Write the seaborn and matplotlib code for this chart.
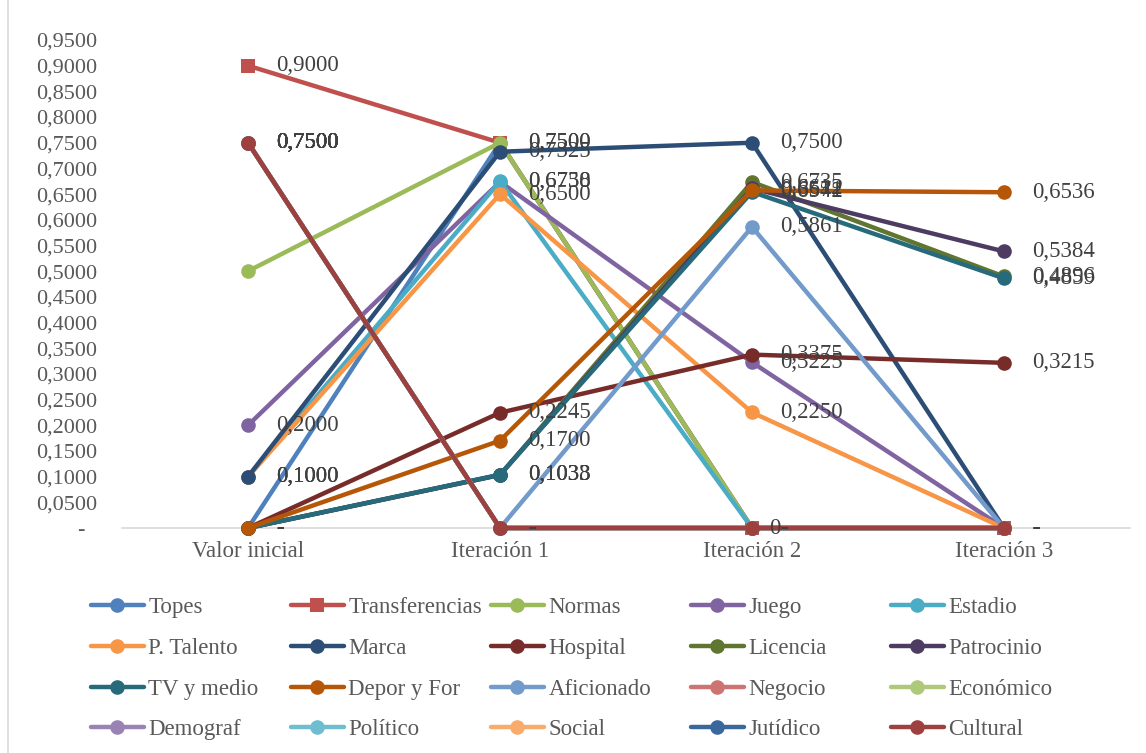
import numpy as np
import pandas as pd
import matplotlib
matplotlib.use("Agg")
import matplotlib.pyplot as plt
import seaborn as sns
from matplotlib.lines import Line2D

# categories and series
categorias = ["Valor inicial", "Iteración 1", "Iteración 2", "Iteración 3"]

nombres = ["Topes", "Transferencias", "Normas", "Juego", "Estadio",
           "P. Talento", "Marca", "Hospital", "Licencia", "Patrocinio",
           "TV y medio", "Depor y For", "Aficionado", "Negocio", "Económico",
           "Demograf", "Político", "Social", "Jutídico", "Cultural"]

topes = [0.0, 0.75, 0.0, 0.0]
transferencias = [0.90, 0.75, 0.0, 0.0]
normas = [0.50, 0.75, 0.0, 0.0]
juego = [0.20, 0.6738, 0.3225, 0.0]
estadio = [0.10, 0.6750, 0.0, 0.0]
p_talento = [0.10, 0.65, 0.2250, 0.0]
marca = [0.10, 0.7325, 0.75, 0.0]
hospital = [0.0, 0.2245, 0.3375, 0.3215]
licencia = [0.0, 0.1033, 0.6735, 0.4896]
patrocinio = [0.0, 0.1033, 0.6612, 0.5384]
tv_medio = [0.0, 0.1038, 0.6542, 0.4859]
depor_for = [0.0, 0.17, 0.6571, 0.6536]
aficionado = [0.75, 0.0, 0.5861, 0.0]
negocio = [0.75, 0.0, 0.0, 0.0]
economico = [0.75, 0.0, 0.0, 0.0]
demograf = [0.75, 0.0, 0.0, 0.0]
politico = [0.75, 0.0, 0.0, 0.0]
social = [0.75, 0.0, 0.0, 0.0]
juridico = [0.75, 0.0, 0.0, 0.0]
cultural = [0.75, 0.0, 0.0, 0.0]

valores = [topes, transferencias, normas, juego, estadio, p_talento, marca,
           hospital, licencia, patrocinio, tv_medio, depor_for, aficionado,
           negocio, economico, demograf, politico, social, juridico, cultural]

colores = ["#4F81BD", "#C0504D", "#9BBB59", "#8064A2", "#4BACC6", "#F79646",
           "#2C4D75", "#772C2A", "#5F7530", "#4D3B62", "#276A7C", "#B65708",
           "#729ACA", "#CD7371", "#AFC97A", "#9983B5", "#6FBDD1", "#F9AB6B",
           "#3A679C", "#9E413E"]

# Normas has no data labels in the original
sin_etiquetas = ["Normas"]

sns.set_theme(style="white")
plt.rcParams['font.family'] = ['Liberation Serif', 'DejaVu Serif']

fig, ax = plt.subplots(figsize=(11.46, 7.53), dpi=100)
fig.subplots_adjust(left=0.1065, right=0.986, bottom=0.2988, top=0.9469)

x = np.arange(len(categorias))
handles = []
for nombre, vals, col in zip(nombres, valores, colores):
    marker = "s" if nombre == "Transferencias" else "o"
    sns.lineplot(x=x, y=vals, ax=ax, color=col, marker=marker, markersize=10.5,
                 markeredgewidth=0, linewidth=3.2, clip_on=False)
    handles.append(ax.lines[-1])


def fmt(v):
    if v == 0:
        return "-"
    return f"{v:.4f}".replace(".", ",")


# data labels
for nombre, vals in zip(nombres, valores):
    if nombre in sin_etiquetas:
        continue
    for j, v in enumerate(vals):
        txt = fmt(v)
        dx = 20
        if nombre == "Transferencias" and j == 2:
            txt = "0"
            dx = 12
        ax.annotate(txt, (j, v), xytext=(dx, 0), textcoords="offset points",
                    ha="left", va="center", fontsize=16.5, color="#404040",
                    zorder=20, annotation_clip=False)

ax.set_xlim(-0.5, 3.5)
ax.set_ylim(0, 0.95)
yt = np.arange(0, 0.951, 0.05)
ax.set_yticks(yt)
ax.set_yticklabels(["-  " if t < 1e-9 else f"{t:.4f}".replace(".", ",") for t in yt])
ax.set_xticks(x)
ax.set_xticklabels(categorias)
ax.tick_params(axis="y", length=0, pad=18, labelsize=16, labelcolor="#595959")
ax.tick_params(axis="x", length=0, pad=9, labelsize=16.5, labelcolor="#595959")
ax.grid(False)
for s in ["left", "top", "right"]:
    ax.spines[s].set_visible(False)
ax.spines["bottom"].set_color("#D9D9D9")
ax.spines["bottom"].set_linewidth(1.2)
ax.spines["bottom"].set_zorder(0)

# chart area border (left edge visible)
fig.add_artist(Line2D([8 / 1146, 8 / 1146], [0, 1], transform=fig.transFigure,
                      color="#D9D9D9", lw=1.2))

# legend: 5 equal-width columns, filled row by row
for j in range(5):
    hs = [handles[j + 5 * r] for r in range(4)]
    ls = [nombres[j + 5 * r] for r in range(4)]
    fig.legend(hs, ls, loc="upper left",
               bbox_to_anchor=((91 + 200 * j) / 1146, 1 - 597 / 753),
               frameon=False, fontsize=16.5, handlelength=2.3,
               handletextpad=0.2, labelspacing=0.86, borderpad=0,
               borderaxespad=0, labelcolor="#595959")

plt.savefig("out.png", dpi=100)
plt.close()
